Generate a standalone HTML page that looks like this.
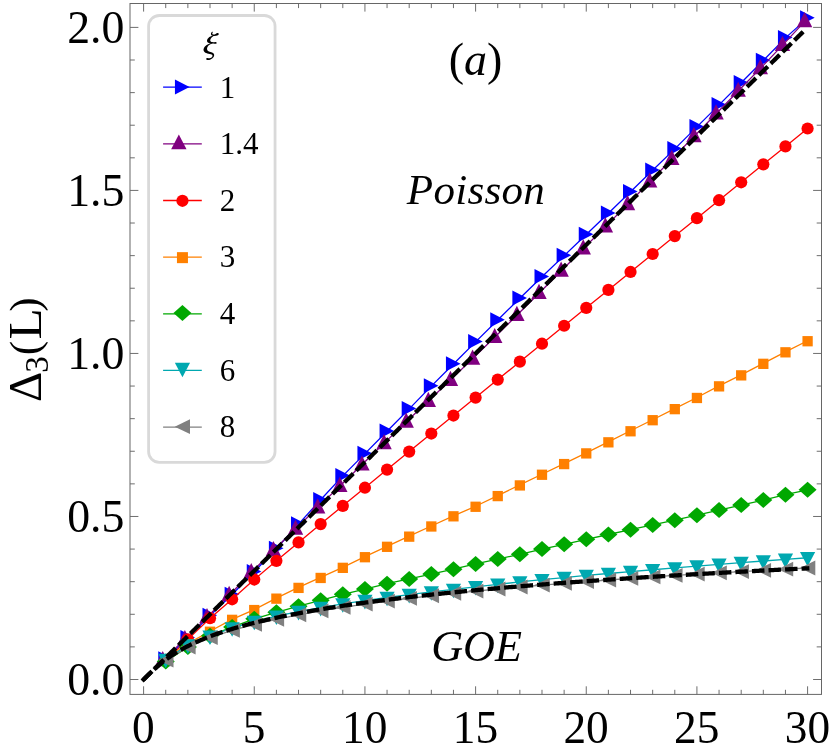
<!DOCTYPE html>
<html><head><meta charset="utf-8"><title>chart</title>
<style>html,body{margin:0;padding:0;background:#fff;overflow:hidden}body{width:830px;height:753px;position:relative;font-family:"Liberation Serif",serif}</style>
</head><body>
<svg width="830" height="753" viewBox="0 0 830 753" style="position:absolute;left:0;top:0;will-change:transform">
<rect width="830" height="753" fill="#fff"/>
<polyline points="165.73,659.07 187.87,637.89 210.00,615.50 232.13,594.51 254.26,571.79 276.40,548.43 298.53,524.08 320.66,499.74 342.80,475.88 364.93,453.66 387.06,431.27 409.20,408.88 431.33,386.16 453.46,363.94 475.60,341.88 497.73,320.06 519.86,298.24 541.99,276.83 564.13,255.63 586.26,234.44 608.39,213.25 630.53,191.78 652.66,170.32 674.79,148.85 696.92,126.85 719.06,104.84 741.19,82.83 763.32,60.44 785.46,37.89 807.59,18.11" fill="none" stroke="#0000ff" stroke-width="1.3"/>
<path d="M158.23 651.27L172.83 658.77L158.23 666.27Z" fill="#0000ff"/>
<path d="M180.37 630.09L194.97 637.59L180.37 645.09Z" fill="#0000ff"/>
<path d="M202.50 607.70L217.10 615.20L202.50 622.70Z" fill="#0000ff"/>
<path d="M224.63 586.71L239.23 594.21L224.63 601.71Z" fill="#0000ff"/>
<path d="M246.76 563.99L261.37 571.49L246.76 578.99Z" fill="#0000ff"/>
<path d="M268.90 540.63L283.50 548.13L268.90 555.63Z" fill="#0000ff"/>
<path d="M291.03 516.28L305.63 523.78L291.03 531.28Z" fill="#0000ff"/>
<path d="M313.16 491.94L327.76 499.44L313.16 506.94Z" fill="#0000ff"/>
<path d="M335.30 468.08L349.90 475.58L335.30 483.08Z" fill="#0000ff"/>
<path d="M357.43 445.86L372.03 453.36L357.43 460.86Z" fill="#0000ff"/>
<path d="M379.56 423.47L394.16 430.97L379.56 438.47Z" fill="#0000ff"/>
<path d="M401.70 401.08L416.30 408.58L401.70 416.08Z" fill="#0000ff"/>
<path d="M423.83 378.36L438.43 385.86L423.83 393.36Z" fill="#0000ff"/>
<path d="M445.96 356.14L460.56 363.64L445.96 371.14Z" fill="#0000ff"/>
<path d="M468.10 334.08L482.70 341.58L468.10 349.08Z" fill="#0000ff"/>
<path d="M490.23 312.26L504.83 319.76L490.23 327.26Z" fill="#0000ff"/>
<path d="M512.36 290.44L526.96 297.94L512.36 305.44Z" fill="#0000ff"/>
<path d="M534.49 269.03L549.09 276.53L534.49 284.03Z" fill="#0000ff"/>
<path d="M556.63 247.83L571.23 255.33L556.63 262.83Z" fill="#0000ff"/>
<path d="M578.76 226.64L593.36 234.14L578.76 241.64Z" fill="#0000ff"/>
<path d="M600.89 205.45L615.49 212.95L600.89 220.45Z" fill="#0000ff"/>
<path d="M623.03 183.98L637.63 191.48L623.03 198.98Z" fill="#0000ff"/>
<path d="M645.16 162.52L659.76 170.02L645.16 177.52Z" fill="#0000ff"/>
<path d="M667.29 141.05L681.89 148.55L667.29 156.05Z" fill="#0000ff"/>
<path d="M689.42 119.05L704.02 126.55L689.42 134.05Z" fill="#0000ff"/>
<path d="M711.56 97.04L726.16 104.54L711.56 112.04Z" fill="#0000ff"/>
<path d="M733.69 75.03L748.29 82.53L733.69 90.03Z" fill="#0000ff"/>
<path d="M755.82 52.64L770.42 60.14L755.82 67.64Z" fill="#0000ff"/>
<path d="M777.96 30.09L792.56 37.59L777.96 45.09Z" fill="#0000ff"/>
<path d="M800.09 10.31L814.69 17.81L800.09 25.31Z" fill="#0000ff"/>
<polyline points="165.73,657.44 187.87,636.35 210.00,614.29 232.13,592.23 254.26,569.51 276.40,547.45 298.53,526.04 320.66,504.63 342.80,483.22 364.93,461.81 387.06,440.40 409.20,418.99 431.33,398.23 453.46,377.14 475.60,355.83 497.73,334.32 519.86,312.26 541.99,290.20 564.13,267.97 586.26,245.74 608.39,223.60 630.53,201.46 652.66,178.80 674.79,156.14 696.92,133.47 719.06,110.76 741.19,88.05 763.32,65.33 785.46,42.13 807.59,18.34" fill="none" stroke="#800080" stroke-width="1.3"/>
<path d="M162.73 651.04L170.43 666.24L155.03 666.24Z" fill="#800080"/>
<path d="M184.87 629.95L192.57 645.15L177.17 645.15Z" fill="#800080"/>
<path d="M207.00 607.89L214.70 623.09L199.30 623.09Z" fill="#800080"/>
<path d="M229.13 585.83L236.83 601.03L221.43 601.03Z" fill="#800080"/>
<path d="M251.26 563.11L258.96 578.31L243.56 578.31Z" fill="#800080"/>
<path d="M273.40 541.05L281.10 556.25L265.70 556.25Z" fill="#800080"/>
<path d="M295.53 519.64L303.23 534.84L287.83 534.84Z" fill="#800080"/>
<path d="M317.66 498.23L325.36 513.43L309.96 513.43Z" fill="#800080"/>
<path d="M339.80 476.82L347.50 492.02L332.10 492.02Z" fill="#800080"/>
<path d="M361.93 455.41L369.63 470.61L354.23 470.61Z" fill="#800080"/>
<path d="M384.06 434.00L391.76 449.20L376.36 449.20Z" fill="#800080"/>
<path d="M406.20 412.59L413.90 427.79L398.50 427.79Z" fill="#800080"/>
<path d="M428.33 391.83L436.03 407.03L420.63 407.03Z" fill="#800080"/>
<path d="M450.46 370.74L458.16 385.94L442.76 385.94Z" fill="#800080"/>
<path d="M472.60 349.43L480.30 364.63L464.90 364.63Z" fill="#800080"/>
<path d="M494.73 327.92L502.43 343.12L487.03 343.12Z" fill="#800080"/>
<path d="M516.86 305.86L524.56 321.06L509.16 321.06Z" fill="#800080"/>
<path d="M538.99 283.80L546.69 299.00L531.29 299.00Z" fill="#800080"/>
<path d="M561.13 261.57L568.83 276.77L553.43 276.77Z" fill="#800080"/>
<path d="M583.26 239.34L590.96 254.54L575.56 254.54Z" fill="#800080"/>
<path d="M605.39 217.20L613.09 232.40L597.69 232.40Z" fill="#800080"/>
<path d="M627.53 195.06L635.23 210.26L619.83 210.26Z" fill="#800080"/>
<path d="M649.66 172.40L657.36 187.60L641.96 187.60Z" fill="#800080"/>
<path d="M671.79 149.74L679.49 164.94L664.09 164.94Z" fill="#800080"/>
<path d="M693.92 127.07L701.62 142.27L686.22 142.27Z" fill="#800080"/>
<path d="M716.06 104.36L723.76 119.56L708.36 119.56Z" fill="#800080"/>
<path d="M738.19 81.65L745.89 96.85L730.49 96.85Z" fill="#800080"/>
<path d="M760.32 58.93L768.02 74.13L752.62 74.13Z" fill="#800080"/>
<path d="M782.46 35.73L790.16 50.93L774.76 50.93Z" fill="#800080"/>
<path d="M804.59 11.94L812.29 27.14L796.89 27.14Z" fill="#800080"/>
<polyline points="165.73,660.26 187.87,639.40 210.00,618.20 232.13,599.29 254.26,579.53 276.40,560.86 298.53,542.39 320.66,524.07 342.80,505.85 364.93,487.70 387.06,469.62 409.20,451.57 431.33,433.56 453.46,415.56 475.60,397.59 497.73,379.62 519.86,361.67 541.99,343.72 564.13,325.77 586.26,307.83 608.39,289.89 630.53,271.95 652.66,254.01 674.79,236.08 696.92,218.14 719.06,200.21 741.19,182.28 763.32,164.34 785.46,146.41 807.59,128.48" fill="none" stroke="#ff0000" stroke-width="1.3"/>
<circle cx="165.73" cy="660.26" r="6.1" fill="#ff0000"/>
<circle cx="187.87" cy="639.40" r="6.1" fill="#ff0000"/>
<circle cx="210.00" cy="618.20" r="6.1" fill="#ff0000"/>
<circle cx="232.13" cy="599.29" r="6.1" fill="#ff0000"/>
<circle cx="254.26" cy="579.53" r="6.1" fill="#ff0000"/>
<circle cx="276.40" cy="560.86" r="6.1" fill="#ff0000"/>
<circle cx="298.53" cy="542.39" r="6.1" fill="#ff0000"/>
<circle cx="320.66" cy="524.07" r="6.1" fill="#ff0000"/>
<circle cx="342.80" cy="505.85" r="6.1" fill="#ff0000"/>
<circle cx="364.93" cy="487.70" r="6.1" fill="#ff0000"/>
<circle cx="387.06" cy="469.62" r="6.1" fill="#ff0000"/>
<circle cx="409.20" cy="451.57" r="6.1" fill="#ff0000"/>
<circle cx="431.33" cy="433.56" r="6.1" fill="#ff0000"/>
<circle cx="453.46" cy="415.56" r="6.1" fill="#ff0000"/>
<circle cx="475.60" cy="397.59" r="6.1" fill="#ff0000"/>
<circle cx="497.73" cy="379.62" r="6.1" fill="#ff0000"/>
<circle cx="519.86" cy="361.67" r="6.1" fill="#ff0000"/>
<circle cx="541.99" cy="343.72" r="6.1" fill="#ff0000"/>
<circle cx="564.13" cy="325.77" r="6.1" fill="#ff0000"/>
<circle cx="586.26" cy="307.83" r="6.1" fill="#ff0000"/>
<circle cx="608.39" cy="289.89" r="6.1" fill="#ff0000"/>
<circle cx="630.53" cy="271.95" r="6.1" fill="#ff0000"/>
<circle cx="652.66" cy="254.01" r="6.1" fill="#ff0000"/>
<circle cx="674.79" cy="236.08" r="6.1" fill="#ff0000"/>
<circle cx="696.92" cy="218.14" r="6.1" fill="#ff0000"/>
<circle cx="719.06" cy="200.21" r="6.1" fill="#ff0000"/>
<circle cx="741.19" cy="182.28" r="6.1" fill="#ff0000"/>
<circle cx="763.32" cy="164.34" r="6.1" fill="#ff0000"/>
<circle cx="785.46" cy="146.41" r="6.1" fill="#ff0000"/>
<circle cx="807.59" cy="128.48" r="6.1" fill="#ff0000"/>
<polyline points="165.73,659.12 187.87,643.63 210.00,631.24 232.13,619.34 254.26,609.56 276.40,598.15 298.53,587.39 320.66,577.45 342.80,567.34 364.93,556.71 387.06,546.31 409.20,536.15 431.33,525.98 453.46,515.82 475.60,506.27 497.73,495.59 519.86,484.92 541.99,474.25 564.13,463.57 586.26,452.90 608.39,441.83 630.53,430.77 652.66,419.71 674.79,408.65 696.92,397.47 719.06,385.86 741.19,374.87 763.32,363.33 785.46,351.82 807.59,340.73" fill="none" stroke="#ff8000" stroke-width="1.3"/>
<rect x="160.58" y="654.47" width="10.3" height="10.3" fill="#ff8000"/>
<rect x="182.72" y="638.98" width="10.3" height="10.3" fill="#ff8000"/>
<rect x="204.85" y="626.59" width="10.3" height="10.3" fill="#ff8000"/>
<rect x="226.98" y="614.69" width="10.3" height="10.3" fill="#ff8000"/>
<rect x="249.11" y="604.91" width="10.3" height="10.3" fill="#ff8000"/>
<rect x="271.25" y="593.50" width="10.3" height="10.3" fill="#ff8000"/>
<rect x="293.38" y="582.74" width="10.3" height="10.3" fill="#ff8000"/>
<rect x="315.51" y="572.80" width="10.3" height="10.3" fill="#ff8000"/>
<rect x="337.65" y="562.69" width="10.3" height="10.3" fill="#ff8000"/>
<rect x="359.78" y="552.06" width="10.3" height="10.3" fill="#ff8000"/>
<rect x="381.91" y="541.66" width="10.3" height="10.3" fill="#ff8000"/>
<rect x="404.05" y="531.50" width="10.3" height="10.3" fill="#ff8000"/>
<rect x="426.18" y="521.33" width="10.3" height="10.3" fill="#ff8000"/>
<rect x="448.31" y="511.17" width="10.3" height="10.3" fill="#ff8000"/>
<rect x="470.45" y="501.62" width="10.3" height="10.3" fill="#ff8000"/>
<rect x="492.58" y="490.94" width="10.3" height="10.3" fill="#ff8000"/>
<rect x="514.71" y="480.27" width="10.3" height="10.3" fill="#ff8000"/>
<rect x="536.84" y="469.60" width="10.3" height="10.3" fill="#ff8000"/>
<rect x="558.98" y="458.92" width="10.3" height="10.3" fill="#ff8000"/>
<rect x="581.11" y="448.25" width="10.3" height="10.3" fill="#ff8000"/>
<rect x="603.24" y="437.18" width="10.3" height="10.3" fill="#ff8000"/>
<rect x="625.38" y="426.12" width="10.3" height="10.3" fill="#ff8000"/>
<rect x="647.51" y="415.06" width="10.3" height="10.3" fill="#ff8000"/>
<rect x="669.64" y="404.00" width="10.3" height="10.3" fill="#ff8000"/>
<rect x="691.77" y="392.82" width="10.3" height="10.3" fill="#ff8000"/>
<rect x="713.91" y="381.21" width="10.3" height="10.3" fill="#ff8000"/>
<rect x="736.04" y="370.22" width="10.3" height="10.3" fill="#ff8000"/>
<rect x="758.17" y="358.68" width="10.3" height="10.3" fill="#ff8000"/>
<rect x="780.31" y="347.17" width="10.3" height="10.3" fill="#ff8000"/>
<rect x="802.44" y="336.08" width="10.3" height="10.3" fill="#ff8000"/>
<polyline points="165.73,661.47 187.87,647.06 210.00,635.71 232.13,627.10 254.26,618.85 276.40,612.33 298.53,606.14 320.66,600.37 342.80,594.34 364.93,589.12 387.06,583.74 409.20,578.88 431.33,574.02 453.46,569.16 475.60,563.95 497.73,559.12 519.86,554.30 541.99,549.08 564.13,544.29 586.26,539.30 608.39,534.51 630.53,529.73 652.66,524.94 674.79,520.16 696.92,515.17 719.06,510.12 741.19,505.10 763.32,500.07 785.46,494.69 807.59,489.87" fill="none" stroke="#00a800" stroke-width="1.3"/>
<path d="M165.73 653.47L174.73 661.47L165.73 669.47L156.73 661.47Z" fill="#00a800"/>
<path d="M187.87 639.06L196.87 647.06L187.87 655.06L178.87 647.06Z" fill="#00a800"/>
<path d="M210.00 627.71L219.00 635.71L210.00 643.71L201.00 635.71Z" fill="#00a800"/>
<path d="M232.13 619.10L241.13 627.10L232.13 635.10L223.13 627.10Z" fill="#00a800"/>
<path d="M254.26 610.85L263.26 618.85L254.26 626.85L245.26 618.85Z" fill="#00a800"/>
<path d="M276.40 604.33L285.40 612.33L276.40 620.33L267.40 612.33Z" fill="#00a800"/>
<path d="M298.53 598.14L307.53 606.14L298.53 614.14L289.53 606.14Z" fill="#00a800"/>
<path d="M320.66 592.37L329.66 600.37L320.66 608.37L311.66 600.37Z" fill="#00a800"/>
<path d="M342.80 586.34L351.80 594.34L342.80 602.34L333.80 594.34Z" fill="#00a800"/>
<path d="M364.93 581.12L373.93 589.12L364.93 597.12L355.93 589.12Z" fill="#00a800"/>
<path d="M387.06 575.74L396.06 583.74L387.06 591.74L378.06 583.74Z" fill="#00a800"/>
<path d="M409.20 570.88L418.20 578.88L409.20 586.88L400.20 578.88Z" fill="#00a800"/>
<path d="M431.33 566.02L440.33 574.02L431.33 582.02L422.33 574.02Z" fill="#00a800"/>
<path d="M453.46 561.16L462.46 569.16L453.46 577.16L444.46 569.16Z" fill="#00a800"/>
<path d="M475.60 555.95L484.60 563.95L475.60 571.95L466.60 563.95Z" fill="#00a800"/>
<path d="M497.73 551.12L506.73 559.12L497.73 567.12L488.73 559.12Z" fill="#00a800"/>
<path d="M519.86 546.30L528.86 554.30L519.86 562.30L510.86 554.30Z" fill="#00a800"/>
<path d="M541.99 541.08L550.99 549.08L541.99 557.08L532.99 549.08Z" fill="#00a800"/>
<path d="M564.13 536.29L573.13 544.29L564.13 552.29L555.13 544.29Z" fill="#00a800"/>
<path d="M586.26 531.30L595.26 539.30L586.26 547.30L577.26 539.30Z" fill="#00a800"/>
<path d="M608.39 526.51L617.39 534.51L608.39 542.51L599.39 534.51Z" fill="#00a800"/>
<path d="M630.53 521.73L639.53 529.73L630.53 537.73L621.53 529.73Z" fill="#00a800"/>
<path d="M652.66 516.94L661.66 524.94L652.66 532.94L643.66 524.94Z" fill="#00a800"/>
<path d="M674.79 512.16L683.79 520.16L674.79 528.16L665.79 520.16Z" fill="#00a800"/>
<path d="M696.92 507.17L705.92 515.17L696.92 523.17L687.92 515.17Z" fill="#00a800"/>
<path d="M719.06 502.12L728.06 510.12L719.06 518.12L710.06 510.12Z" fill="#00a800"/>
<path d="M741.19 497.10L750.19 505.10L741.19 513.10L732.19 505.10Z" fill="#00a800"/>
<path d="M763.32 492.07L772.32 500.07L763.32 508.07L754.32 500.07Z" fill="#00a800"/>
<path d="M785.46 486.69L794.46 494.69L785.46 502.69L776.46 494.69Z" fill="#00a800"/>
<path d="M807.59 481.87L816.59 489.87L807.59 497.87L798.59 489.87Z" fill="#00a800"/>
<polyline points="165.73,659.43 187.87,645.14 210.00,636.25 232.13,627.95 254.26,621.52 276.40,616.23 298.53,611.64 320.66,607.58 342.80,603.94 364.93,600.63 387.06,597.51 409.20,594.63 431.33,591.95 453.46,589.43 475.60,586.82 497.73,584.34 519.86,581.97 541.99,579.71 564.13,577.54 586.26,575.45 608.39,573.48 630.53,571.58 652.66,569.74 674.79,567.96 696.92,566.14 719.06,564.38 741.19,562.66 763.32,560.98 785.46,559.34 807.59,557.74" fill="none" stroke="#00a8b0" stroke-width="1.3"/>
<path d="M158.13 653.63L173.33 653.63L165.73 668.23Z" fill="#00a8b0"/>
<path d="M180.27 639.34L195.47 639.34L187.87 653.94Z" fill="#00a8b0"/>
<path d="M202.40 630.45L217.60 630.45L210.00 645.05Z" fill="#00a8b0"/>
<path d="M224.53 622.15L239.73 622.15L232.13 636.75Z" fill="#00a8b0"/>
<path d="M246.66 615.72L261.87 615.72L254.26 630.32Z" fill="#00a8b0"/>
<path d="M268.80 610.43L284.00 610.43L276.40 625.03Z" fill="#00a8b0"/>
<path d="M290.93 605.84L306.13 605.84L298.53 620.44Z" fill="#00a8b0"/>
<path d="M313.06 601.78L328.26 601.78L320.66 616.38Z" fill="#00a8b0"/>
<path d="M335.20 598.14L350.40 598.14L342.80 612.74Z" fill="#00a8b0"/>
<path d="M357.33 594.83L372.53 594.83L364.93 609.43Z" fill="#00a8b0"/>
<path d="M379.46 591.71L394.66 591.71L387.06 606.31Z" fill="#00a8b0"/>
<path d="M401.60 588.83L416.80 588.83L409.20 603.43Z" fill="#00a8b0"/>
<path d="M423.73 586.15L438.93 586.15L431.33 600.75Z" fill="#00a8b0"/>
<path d="M445.86 583.63L461.06 583.63L453.46 598.23Z" fill="#00a8b0"/>
<path d="M468.00 581.02L483.20 581.02L475.60 595.62Z" fill="#00a8b0"/>
<path d="M490.13 578.54L505.33 578.54L497.73 593.14Z" fill="#00a8b0"/>
<path d="M512.26 576.17L527.46 576.17L519.86 590.77Z" fill="#00a8b0"/>
<path d="M534.39 573.91L549.59 573.91L541.99 588.51Z" fill="#00a8b0"/>
<path d="M556.53 571.74L571.73 571.74L564.13 586.34Z" fill="#00a8b0"/>
<path d="M578.66 569.65L593.86 569.65L586.26 584.25Z" fill="#00a8b0"/>
<path d="M600.79 567.68L615.99 567.68L608.39 582.28Z" fill="#00a8b0"/>
<path d="M622.93 565.78L638.13 565.78L630.53 580.38Z" fill="#00a8b0"/>
<path d="M645.06 563.94L660.26 563.94L652.66 578.54Z" fill="#00a8b0"/>
<path d="M667.19 562.16L682.39 562.16L674.79 576.76Z" fill="#00a8b0"/>
<path d="M689.32 560.34L704.52 560.34L696.92 574.94Z" fill="#00a8b0"/>
<path d="M711.46 558.58L726.66 558.58L719.06 573.18Z" fill="#00a8b0"/>
<path d="M733.59 556.86L748.79 556.86L741.19 571.46Z" fill="#00a8b0"/>
<path d="M755.72 555.18L770.92 555.18L763.32 569.78Z" fill="#00a8b0"/>
<path d="M777.86 553.54L793.06 553.54L785.46 568.14Z" fill="#00a8b0"/>
<path d="M799.99 551.94L815.19 551.94L807.59 566.54Z" fill="#00a8b0"/>
<polyline points="165.73,660.08 187.87,647.10 210.00,637.72 232.13,630.39 254.26,624.46 276.40,619.31 298.53,614.86 320.66,610.95 342.80,607.34 364.93,604.06 387.06,601.07 409.20,598.30 431.33,595.74 453.46,593.34 475.60,591.11 497.73,589.00 519.86,587.01 541.99,585.12 564.13,583.33 586.26,581.62 608.39,579.98 630.53,578.41 652.66,576.90 674.79,575.46 696.92,574.10 719.06,572.80 741.19,571.54 763.32,570.33 785.46,569.15 807.59,568.01" fill="none" stroke="#808080" stroke-width="1.3"/>
<path d="M173.48 652.68L173.48 667.48L158.18 660.08Z" fill="#808080"/>
<path d="M195.62 639.70L195.62 654.50L180.32 647.10Z" fill="#808080"/>
<path d="M217.75 630.32L217.75 645.12L202.45 637.72Z" fill="#808080"/>
<path d="M239.88 622.99L239.88 637.79L224.58 630.39Z" fill="#808080"/>
<path d="M262.01 617.06L262.01 631.86L246.71 624.46Z" fill="#808080"/>
<path d="M284.15 611.91L284.15 626.71L268.85 619.31Z" fill="#808080"/>
<path d="M306.28 607.46L306.28 622.26L290.98 614.86Z" fill="#808080"/>
<path d="M328.41 603.55L328.41 618.35L313.11 610.95Z" fill="#808080"/>
<path d="M350.55 599.94L350.55 614.74L335.25 607.34Z" fill="#808080"/>
<path d="M372.68 596.66L372.68 611.46L357.38 604.06Z" fill="#808080"/>
<path d="M394.81 593.67L394.81 608.47L379.51 601.07Z" fill="#808080"/>
<path d="M416.95 590.90L416.95 605.70L401.65 598.30Z" fill="#808080"/>
<path d="M439.08 588.34L439.08 603.14L423.78 595.74Z" fill="#808080"/>
<path d="M461.21 585.94L461.21 600.74L445.91 593.34Z" fill="#808080"/>
<path d="M483.35 583.71L483.35 598.51L468.05 591.11Z" fill="#808080"/>
<path d="M505.48 581.60L505.48 596.40L490.18 589.00Z" fill="#808080"/>
<path d="M527.61 579.61L527.61 594.41L512.31 587.01Z" fill="#808080"/>
<path d="M549.74 577.72L549.74 592.52L534.44 585.12Z" fill="#808080"/>
<path d="M571.88 575.93L571.88 590.73L556.58 583.33Z" fill="#808080"/>
<path d="M594.01 574.22L594.01 589.02L578.71 581.62Z" fill="#808080"/>
<path d="M616.14 572.58L616.14 587.38L600.84 579.98Z" fill="#808080"/>
<path d="M638.28 571.01L638.28 585.81L622.98 578.41Z" fill="#808080"/>
<path d="M660.41 569.50L660.41 584.30L645.11 576.90Z" fill="#808080"/>
<path d="M682.54 568.06L682.54 582.86L667.24 575.46Z" fill="#808080"/>
<path d="M704.67 566.70L704.67 581.50L689.38 574.10Z" fill="#808080"/>
<path d="M726.81 565.40L726.81 580.20L711.51 572.80Z" fill="#808080"/>
<path d="M748.94 564.14L748.94 578.94L733.64 571.54Z" fill="#808080"/>
<path d="M771.07 562.93L771.07 577.73L755.77 570.33Z" fill="#808080"/>
<path d="M793.21 561.75L793.21 576.55L777.91 569.15Z" fill="#808080"/>
<path d="M815.34 560.61L815.34 575.41L800.04 568.01Z" fill="#808080"/>
<polyline points="143.03,680.06 143.60,679.50 145.25,677.88 146.91,676.25 148.56,674.63 150.21,673.01 151.87,671.38 153.52,669.76 155.17,668.14 156.82,666.51 158.48,664.89 160.13,663.27 161.78,661.64 163.44,660.02 165.09,658.40 166.74,656.77 168.40,655.15 170.05,653.52 171.70,651.90 173.35,650.28 175.01,648.65 176.66,647.03 178.31,645.41 179.97,643.78 181.62,642.16 183.27,640.54 184.93,638.91 186.58,637.29 188.23,635.67 189.89,634.04 191.54,632.42 193.19,630.80 194.84,629.17 196.50,627.55 198.15,625.93 199.80,624.30 201.46,622.68 203.11,621.06 204.76,619.43 206.42,617.81 208.07,616.19 209.72,614.56 211.37,612.94 213.03,611.32 214.68,609.69 216.33,608.07 217.99,606.45 219.64,604.82 221.29,603.20 222.95,601.57 224.60,599.95 226.25,598.33 227.91,596.70 229.56,595.08 231.21,593.46 232.86,591.83 234.52,590.21 236.17,588.59 237.82,586.96 239.48,585.34 241.13,583.72 242.78,582.09 244.44,580.47 246.09,578.85 247.74,577.22 249.39,575.60 251.05,573.98 252.70,572.35 254.35,570.73 256.01,569.11 257.66,567.48 259.31,565.86 260.97,564.24 262.62,562.61 264.27,560.99 265.93,559.37 267.58,557.74 269.23,556.12 270.88,554.50 272.54,552.87 274.19,551.25 275.84,549.62 277.50,548.00 279.15,546.38 280.80,544.75 282.46,543.13 284.11,541.51 285.76,539.88 287.41,538.26 289.07,536.64 290.72,535.01 292.37,533.39 294.03,531.77 295.68,530.14 297.33,528.52 298.99,526.90 300.64,525.27 302.29,523.65 303.94,522.03 305.60,520.40 307.25,518.78 308.90,517.16 310.56,515.53 312.21,513.91 313.86,512.29 315.52,510.66 317.17,509.04 318.82,507.42 320.48,505.79 322.13,504.17 323.78,502.55 325.43,500.92 327.09,499.30 328.74,497.67 330.39,496.05 332.05,494.43 333.70,492.80 335.35,491.18 337.01,489.56 338.66,487.93 340.31,486.31 341.96,484.69 343.62,483.06 345.27,481.44 346.92,479.82 348.58,478.19 350.23,476.57 351.88,474.95 353.54,473.32 355.19,471.70 356.84,470.08 358.50,468.45 360.15,466.83 361.80,465.21 363.45,463.58 365.11,461.96 366.76,460.34 368.41,458.71 370.07,457.09 371.72,455.47 373.37,453.84 375.03,452.22 376.68,450.59 378.33,448.97 379.98,447.35 381.64,445.72 383.29,444.10 384.94,442.48 386.60,440.85 388.25,439.23 389.90,437.61 391.56,435.98 393.21,434.36 394.86,432.74 396.52,431.11 398.17,429.49 399.82,427.87 401.47,426.24 403.13,424.62 404.78,423.00 406.43,421.37 408.09,419.75 409.74,418.13 411.39,416.50 413.05,414.88 414.70,413.26 416.35,411.63 418.00,410.01 419.66,408.39 421.31,406.76 422.96,405.14 424.62,403.52 426.27,401.89 427.92,400.27 429.58,398.64 431.23,397.02 432.88,395.40 434.54,393.77 436.19,392.15 437.84,390.53 439.49,388.90 441.15,387.28 442.80,385.66 444.45,384.03 446.11,382.41 447.76,380.79 449.41,379.16 451.07,377.54 452.72,375.92 454.37,374.29 456.02,372.67 457.68,371.05 459.33,369.42 460.98,367.80 462.64,366.18 464.29,364.55 465.94,362.93 467.60,361.31 469.25,359.68 470.90,358.06 472.56,356.44 474.21,354.81 475.86,353.19 477.51,351.57 479.17,349.94 480.82,348.32 482.47,346.69 484.13,345.07 485.78,343.45 487.43,341.82 489.09,340.20 490.74,338.58 492.39,336.95 494.04,335.33 495.70,333.71 497.35,332.08 499.00,330.46 500.66,328.84 502.31,327.21 503.96,325.59 505.62,323.97 507.27,322.34 508.92,320.72 510.58,319.10 512.23,317.47 513.88,315.85 515.53,314.23 517.19,312.60 518.84,310.98 520.49,309.36 522.15,307.73 523.80,306.11 525.45,304.49 527.11,302.86 528.76,301.24 530.41,299.61 532.06,297.99 533.72,296.37 535.37,294.74 537.02,293.12 538.68,291.50 540.33,289.87 541.98,288.25 543.64,286.63 545.29,285.00 546.94,283.38 548.60,281.76 550.25,280.13 551.90,278.51 553.55,276.89 555.21,275.26 556.86,273.64 558.51,272.02 560.17,270.39 561.82,268.77 563.47,267.15 565.13,265.52 566.78,263.90 568.43,262.28 570.08,260.65 571.74,259.03 573.39,257.41 575.04,255.78 576.70,254.16 578.35,252.54 580.00,250.91 581.66,249.29 583.31,247.66 584.96,246.04 586.62,244.42 588.27,242.79 589.92,241.17 591.57,239.55 593.23,237.92 594.88,236.30 596.53,234.68 598.19,233.05 599.84,231.43 601.49,229.81 603.15,228.18 604.80,226.56 606.45,224.94 608.10,223.31 609.76,221.69 611.41,220.07 613.06,218.44 614.72,216.82 616.37,215.20 618.02,213.57 619.68,211.95 621.33,210.33 622.98,208.70 624.63,207.08 626.29,205.46 627.94,203.83 629.59,202.21 631.25,200.59 632.90,198.96 634.55,197.34 636.21,195.71 637.86,194.09 639.51,192.47 641.17,190.84 642.82,189.22 644.47,187.60 646.12,185.97 647.78,184.35 649.43,182.73 651.08,181.10 652.74,179.48 654.39,177.86 656.04,176.23 657.70,174.61 659.35,172.99 661.00,171.36 662.65,169.74 664.31,168.12 665.96,166.49 667.61,164.87 669.27,163.25 670.92,161.62 672.57,160.00 674.23,158.38 675.88,156.75 677.53,155.13 679.19,153.51 680.84,151.88 682.49,150.26 684.14,148.64 685.80,147.01 687.45,145.39 689.10,143.76 690.76,142.14 692.41,140.52 694.06,138.89 695.72,137.27 697.37,135.65 699.02,134.02 700.67,132.40 702.33,130.78 703.98,129.15 705.63,127.53 707.29,125.91 708.94,124.28 710.59,122.66 712.25,121.04 713.90,119.41 715.55,117.79 717.21,116.17 718.86,114.54 720.51,112.92 722.16,111.30 723.82,109.67 725.47,108.05 727.12,106.43 728.78,104.80 730.43,103.18 732.08,101.56 733.74,99.93 735.39,98.31 737.04,96.68 738.69,95.06 740.35,93.44 742.00,91.81 743.65,90.19 745.31,88.57 746.96,86.94 748.61,85.32 750.27,83.70 751.92,82.07 753.57,80.45 755.23,78.83 756.88,77.20 758.53,75.58 760.18,73.96 761.84,72.33 763.49,70.71 765.14,69.09 766.80,67.46 768.45,65.84 770.10,64.22 771.76,62.59 773.41,60.97 775.06,59.35 776.71,57.72 778.37,56.10 780.02,54.48 781.67,52.85 783.33,51.23 784.98,49.61 786.63,47.98 788.29,46.36 789.94,44.73 791.59,43.11 793.25,41.49 794.90,39.86 796.55,38.24 798.20,36.62 799.86,34.99 801.51,33.37 803.16,31.75" fill="none" stroke="#000" stroke-width="4.3" stroke-dasharray="12.5 4.1"/>
<polyline points="142.10,680.97 143.60,679.50 144.93,678.19 146.27,676.88 147.60,675.58 148.94,674.29 150.27,673.02 151.61,671.75 152.94,670.51 154.27,669.29 155.61,668.08 156.94,666.90 158.28,665.75 159.61,664.62 160.94,663.51 162.28,662.43 163.61,661.38 164.95,660.35 166.28,659.35 167.62,658.37 168.95,657.42 170.28,656.49 171.62,655.59 172.95,654.70 174.29,653.84 175.62,653.00 176.95,652.18 178.29,651.38 179.62,650.59 180.96,649.83 182.29,649.08 183.63,648.35 184.96,647.63 186.29,646.93 187.63,646.24 188.96,645.56 190.30,644.90 191.63,644.25 192.97,643.62 194.30,642.99 195.63,642.38 196.97,641.78 198.30,641.19 199.64,640.61 200.97,640.04 202.30,639.48 203.64,638.93 204.97,638.38 206.31,637.85 207.64,637.33 208.98,636.81 210.31,636.30 211.64,635.80 212.98,635.30 214.31,634.82 215.65,634.34 216.98,633.87 218.31,633.40 219.65,632.94 220.98,632.49 222.32,632.04 223.65,631.60 224.99,631.16 226.32,630.73 227.65,630.31 228.99,629.89 230.32,629.48 231.66,629.07 232.99,628.67 234.32,628.27 235.66,627.88 236.99,627.49 238.33,627.10 239.66,626.72 241.00,626.35 242.33,625.97 243.66,625.61 245.00,625.24 246.33,624.89 247.67,624.53 249.00,624.18 250.34,623.83 251.67,623.49 253.00,623.15 254.34,622.81 255.67,622.47 257.01,622.14 258.34,621.82 259.67,621.49 261.01,621.17 262.34,620.85 263.68,620.54 265.01,620.23 266.35,619.92 267.68,619.61 269.01,619.31 270.35,619.01 271.68,618.71 273.02,618.42 274.35,618.13 275.68,617.84 277.02,617.55 278.35,617.26 279.69,616.98 281.02,616.70 282.36,616.42 283.69,616.15 285.02,615.88 286.36,615.61 287.69,615.34 289.03,615.07 290.36,614.81 291.70,614.55 293.03,614.29 294.36,614.03 295.70,613.77 297.03,613.52 298.37,613.27 299.70,613.02 301.03,612.77 302.37,612.52 303.70,612.28 305.04,612.03 306.37,611.79 307.71,611.55 309.04,611.32 310.37,611.08 311.71,610.85 313.04,610.61 314.38,610.38 315.71,610.15 317.04,609.93 318.38,609.70 319.71,609.48 321.05,609.25 322.38,609.03 323.72,608.81 325.05,608.59 326.38,608.38 327.72,608.16 329.05,607.94 330.39,607.73 331.72,607.52 333.05,607.31 334.39,607.10 335.72,606.89 337.06,606.69 338.39,606.48 339.73,606.28 341.06,606.08 342.39,605.88 343.73,605.68 345.06,605.48 346.40,605.28 347.73,605.08 349.07,604.89 350.40,604.69 351.73,604.50 353.07,604.31 354.40,604.12 355.74,603.93 357.07,603.74 358.40,603.55 359.74,603.37 361.07,603.18 362.41,603.00 363.74,602.81 365.08,602.63 366.41,602.45 367.74,602.27 369.08,602.09 370.41,601.91 371.75,601.73 373.08,601.56 374.41,601.38 375.75,601.21 377.08,601.03 378.42,600.86 379.75,600.69 381.09,600.52 382.42,600.35 383.75,600.18 385.09,600.01 386.42,599.84 387.76,599.68 389.09,599.51 390.43,599.35 391.76,599.18 393.09,599.02 394.43,598.86 395.76,598.69 397.10,598.53 398.43,598.37 399.76,598.21 401.10,598.05 402.43,597.90 403.77,597.74 405.10,597.58 406.44,597.43 407.77,597.27 409.10,597.12 410.44,596.97 411.77,596.81 413.11,596.66 414.44,596.51 415.77,596.36 417.11,596.21 418.44,596.06 419.78,595.91 421.11,595.76 422.45,595.62 423.78,595.47 425.11,595.32 426.45,595.18 427.78,595.03 429.12,594.89 430.45,594.75 431.78,594.60 433.12,594.46 434.45,594.32 435.79,594.18 437.12,594.04 438.46,593.90 439.79,593.76 441.12,593.62 442.46,593.48 443.79,593.34 445.13,593.21 446.46,593.07 447.80,592.94 449.13,592.80 450.46,592.67 451.80,592.53 453.13,592.40 454.47,592.26 455.80,592.13 457.13,592.00 458.47,591.87 459.80,591.74 461.14,591.61 462.47,591.48 463.81,591.35 465.14,591.22 466.47,591.09 467.81,590.96 469.14,590.84 470.48,590.71 471.81,590.58 473.14,590.46 474.48,590.33 475.81,590.21 477.15,590.08 478.48,589.96 479.82,589.83 481.15,589.71 482.48,589.59 483.82,589.47 485.15,589.34 486.49,589.22 487.82,589.10 489.16,588.98 490.49,588.86 491.82,588.74 493.16,588.62 494.49,588.51 495.83,588.39 497.16,588.27 498.49,588.15 499.83,588.03 501.16,587.92 502.50,587.80 503.83,587.69 505.17,587.57 506.50,587.46 507.83,587.34 509.17,587.23 510.50,587.11 511.84,587.00 513.17,586.89 514.50,586.77 515.84,586.66 517.17,586.55 518.51,586.44 519.84,586.33 521.18,586.22 522.51,586.11 523.84,586.00 525.18,585.89 526.51,585.78 527.85,585.67 529.18,585.56 530.52,585.45 531.85,585.34 533.18,585.24 534.52,585.13 535.85,585.02 537.19,584.92 538.52,584.81 539.85,584.71 541.19,584.60 542.52,584.49 543.86,584.39 545.19,584.29 546.53,584.18 547.86,584.08 549.19,583.97 550.53,583.87 551.86,583.77 553.20,583.67 554.53,583.56 555.86,583.46 557.20,583.36 558.53,583.26 559.87,583.16 561.20,583.06 562.54,582.96 563.87,582.86 565.20,582.76 566.54,582.66 567.87,582.56 569.21,582.46 570.54,582.36 571.87,582.26 573.21,582.17 574.54,582.07 575.88,581.97 577.21,581.87 578.55,581.78 579.88,581.68 581.21,581.59 582.55,581.49 583.88,581.39 585.22,581.30 586.55,581.20 587.89,581.11 589.22,581.01 590.55,580.92 591.89,580.83 593.22,580.73 594.56,580.64 595.89,580.55 597.22,580.45 598.56,580.36 599.89,580.27 601.23,580.17 602.56,580.08 603.90,579.99 605.23,579.90 606.56,579.81 607.90,579.72 609.23,579.63 610.57,579.54 611.90,579.45 613.23,579.36 614.57,579.27 615.90,579.18 617.24,579.09 618.57,579.00 619.91,578.91 621.24,578.82 622.57,578.73 623.91,578.65 625.24,578.56 626.58,578.47 627.91,578.38 629.25,578.30 630.58,578.21 631.91,578.12 633.25,578.04 634.58,577.95 635.92,577.87 637.25,577.78 638.58,577.69 639.92,577.61 641.25,577.52 642.59,577.44 643.92,577.35 645.26,577.27 646.59,577.19 647.92,577.10 649.26,577.02 650.59,576.93 651.93,576.85 653.26,576.77 654.59,576.69 655.93,576.60 657.26,576.52 658.60,576.44 659.93,576.36 661.27,576.27 662.60,576.19 663.93,576.11 665.27,576.03 666.60,575.95 667.94,575.87 669.27,575.79 670.60,575.71 671.94,575.63 673.27,575.55 674.61,575.47 675.94,575.39 677.28,575.31 678.61,575.23 679.94,575.15 681.28,575.07 682.61,574.99 683.95,574.91 685.28,574.83 686.62,574.76 687.95,574.68 689.28,574.60 690.62,574.52 691.95,574.44 693.29,574.37 694.62,574.29 695.95,574.21 697.29,574.14 698.62,574.06 699.96,573.98 701.29,573.91 702.63,573.83 703.96,573.76 705.29,573.68 706.63,573.60 707.96,573.53 709.30,573.45 710.63,573.38 711.96,573.30 713.30,573.23 714.63,573.16 715.97,573.08 717.30,573.01 718.64,572.93 719.97,572.86 721.30,572.79 722.64,572.71 723.97,572.64 725.31,572.57 726.64,572.49 727.98,572.42 729.31,572.35 730.64,572.27 731.98,572.20 733.31,572.13 734.65,572.06 735.98,571.99 737.31,571.91 738.65,571.84 739.98,571.77 741.32,571.70 742.65,571.63 743.99,571.56 745.32,571.49 746.65,571.42 747.99,571.35 749.32,571.28 750.66,571.21 751.99,571.14 753.32,571.07 754.66,571.00 755.99,570.93 757.33,570.86 758.66,570.79 760.00,570.72 761.33,570.65 762.66,570.58 764.00,570.51 765.33,570.44 766.67,570.37 768.00,570.31 769.33,570.24 770.67,570.17 772.00,570.10 773.34,570.03 774.67,569.97 776.01,569.90 777.34,569.83 778.67,569.76 780.01,569.70 781.34,569.63 782.68,569.56 784.01,569.50 785.35,569.43 786.68,569.36 788.01,569.30 789.35,569.23 790.68,569.17 792.02,569.10 793.35,569.03 794.68,568.97 796.02,568.90 797.35,568.84 798.69,568.77 800.02,568.71 801.36,568.64 802.69,568.58 804.02,568.51 805.36,568.45 806.69,568.38 808.03,568.32 809.36,568.25" fill="none" stroke="#000" stroke-width="4.3" stroke-dasharray="12.5 4.06"/>
<rect x="130.0" y="3.5" width="691.5" height="690.9" fill="none" stroke="#666" stroke-width="1.0"/>
<path d="M143.60 694.4v-8.1M143.60 3.5v8.1M165.73 694.4v-4.6M165.73 3.5v4.6M187.87 694.4v-4.6M187.87 3.5v4.6M210.00 694.4v-4.6M210.00 3.5v4.6M232.13 694.4v-4.6M232.13 3.5v4.6M254.26 694.4v-8.1M254.26 3.5v8.1M276.40 694.4v-4.6M276.40 3.5v4.6M298.53 694.4v-4.6M298.53 3.5v4.6M320.66 694.4v-4.6M320.66 3.5v4.6M342.80 694.4v-4.6M342.80 3.5v4.6M364.93 694.4v-8.1M364.93 3.5v8.1M387.06 694.4v-4.6M387.06 3.5v4.6M409.20 694.4v-4.6M409.20 3.5v4.6M431.33 694.4v-4.6M431.33 3.5v4.6M453.46 694.4v-4.6M453.46 3.5v4.6M475.60 694.4v-8.1M475.60 3.5v8.1M497.73 694.4v-4.6M497.73 3.5v4.6M519.86 694.4v-4.6M519.86 3.5v4.6M541.99 694.4v-4.6M541.99 3.5v4.6M564.13 694.4v-4.6M564.13 3.5v4.6M586.26 694.4v-8.1M586.26 3.5v8.1M608.39 694.4v-4.6M608.39 3.5v4.6M630.53 694.4v-4.6M630.53 3.5v4.6M652.66 694.4v-4.6M652.66 3.5v4.6M674.79 694.4v-4.6M674.79 3.5v4.6M696.92 694.4v-8.1M696.92 3.5v8.1M719.06 694.4v-4.6M719.06 3.5v4.6M741.19 694.4v-4.6M741.19 3.5v4.6M763.32 694.4v-4.6M763.32 3.5v4.6M785.46 694.4v-4.6M785.46 3.5v4.6M807.59 694.4v-8.1M807.59 3.5v8.1M130.0 679.50h8.4M821.5 679.50h-8.4M130.0 646.89h4.8M821.5 646.89h-4.8M130.0 614.29h4.8M821.5 614.29h-4.8M130.0 581.68h4.8M821.5 581.68h-4.8M130.0 549.08h4.8M821.5 549.08h-4.8M130.0 516.48h8.4M821.5 516.48h-8.4M130.0 483.87h4.8M821.5 483.87h-4.8M130.0 451.26h4.8M821.5 451.26h-4.8M130.0 418.66h4.8M821.5 418.66h-4.8M130.0 386.06h4.8M821.5 386.06h-4.8M130.0 353.45h8.4M821.5 353.45h-8.4M130.0 320.84h4.8M821.5 320.84h-4.8M130.0 288.24h4.8M821.5 288.24h-4.8M130.0 255.63h4.8M821.5 255.63h-4.8M130.0 223.03h4.8M821.5 223.03h-4.8M130.0 190.42h8.4M821.5 190.42h-8.4M130.0 157.82h4.8M821.5 157.82h-4.8M130.0 125.22h4.8M821.5 125.22h-4.8M130.0 92.61h4.8M821.5 92.61h-4.8M130.0 60.00h4.8M821.5 60.00h-4.8M130.0 27.40h8.4M821.5 27.40h-8.4" stroke="#666" stroke-width="0.95" fill="none"/>
<g font-family="Liberation Serif, serif" font-size="46.5" fill="#000">
<text transform="translate(143.40,742.8) scale(0.975,1.012)" text-anchor="middle">0</text>
<text transform="translate(254.06,742.8) scale(0.975,1.012)" text-anchor="middle">5</text>
<text transform="translate(364.73,742.8) scale(0.975,1.012)" text-anchor="middle">10</text>
<text transform="translate(475.40,742.8) scale(0.975,1.012)" text-anchor="middle">15</text>
<text transform="translate(586.06,742.8) scale(0.975,1.012)" text-anchor="middle">20</text>
<text transform="translate(696.72,742.8) scale(0.975,1.012)" text-anchor="middle">25</text>
<text transform="translate(807.39,742.8) scale(0.975,1.012)" text-anchor="middle">30</text>
<text transform="translate(124.4,695.30) scale(0.985,1.008)" text-anchor="end">0.0</text>
<text transform="translate(124.4,532.27) scale(0.985,1.008)" text-anchor="end">0.5</text>
<text transform="translate(124.4,369.25) scale(0.985,1.008)" text-anchor="end">1.0</text>
<text transform="translate(124.4,206.22) scale(0.985,1.008)" text-anchor="end">1.5</text>
<text transform="translate(124.4,43.20) scale(0.985,1.008)" text-anchor="end">2.0</text>
</g>
<g transform="translate(41.4,349.3) rotate(-90)" font-family="Liberation Serif, serif" fill="#000"><text x="-52.8" y="0" font-size="47">Δ</text><text x="-23.4" y="7" font-size="33">3</text><text x="-5.9" y="-2.2" font-size="43">(</text><text transform="translate(9.8,0) scale(1.09,1)" font-size="47">L</text><text x="37.6" y="-2.2" font-size="43">)</text></g>
<g font-family="Liberation Serif, serif" font-size="43" fill="#000">
<text x="475.5" y="75.4" text-anchor="middle" font-size="46">(<tspan font-style="italic">a</tspan>)</text>
<text x="476.0" y="204.3" text-anchor="middle" font-style="italic" letter-spacing="0.3">Poisson</text>
<text x="476.6" y="661.1" text-anchor="middle" font-style="italic" font-size="44.2">GOE</text>
</g>
<rect x="148.6" y="15.5" width="126.45" height="446.9" rx="10.7" ry="10.7" fill="#fff" stroke="#d9d9d9" stroke-width="2.8"/>
<g transform="translate(195,25) scale(0.05311)" fill="#000" stroke="none"><path d="M330 128C318 128 306 140 301 158C297 178 308 196 330 204C360 212 400 206 432 194C450 186 452 166 440 156C426 148 404 156 388 168C372 180 350 184 336 178C322 172 322 152 336 138C340 132 336 128 330 128Z"/><path d="M340 196C270 212 215 262 228 312C238 346 290 352 340 350C370 349 392 362 404 350C416 336 404 318 384 320C352 324 310 330 292 308C274 284 300 232 350 206Z"/><path d="M310 338C220 360 150 420 162 482C172 530 240 540 300 552C340 560 340 596 306 618C280 634 252 622 232 620C214 618 204 634 214 648C226 662 262 660 292 648C340 628 368 592 360 554C352 516 300 508 262 498C226 488 214 444 240 404C262 372 300 354 336 348Z"/></g>
<path d="M163.1 87.20H201.8" stroke="#0000ff" stroke-width="1.3"/>
<path d="M174.95 79.40L189.55 86.90L174.95 94.40Z" fill="#0000ff"/>
<text x="219.7" y="97.50" font-family="Liberation Serif, serif" font-size="31" fill="#000">1</text>
<path d="M163.1 143.85H201.8" stroke="#800080" stroke-width="1.3"/>
<path d="M178.85 134.55L186.55 149.25L171.15 149.25Z" fill="#800080"/>
<text x="219.7" y="154.15" font-family="Liberation Serif, serif" font-size="31" fill="#000">1.4</text>
<path d="M163.1 200.50H201.8" stroke="#ff0000" stroke-width="1.3"/>
<circle cx="182.45" cy="200.80" r="6.1" fill="#ff0000"/>
<text x="219.7" y="210.80" font-family="Liberation Serif, serif" font-size="31" fill="#000">2</text>
<path d="M163.1 257.15H201.8" stroke="#ff8000" stroke-width="1.3"/>
<rect x="176.95" y="252.15" width="11.0" height="11.0" fill="#ff8000"/>
<text x="219.7" y="267.45" font-family="Liberation Serif, serif" font-size="31" fill="#000">3</text>
<path d="M163.1 313.80H201.8" stroke="#00a800" stroke-width="1.3"/>
<path d="M182.45 305.00L191.45 313.00L182.45 321.00L173.45 313.00Z" fill="#00a800"/>
<text x="219.7" y="324.10" font-family="Liberation Serif, serif" font-size="31" fill="#000">4</text>
<path d="M163.1 370.45H201.8" stroke="#00a8b0" stroke-width="1.3"/>
<path d="M174.85 362.75L190.05 362.75L182.45 377.35Z" fill="#00a8b0"/>
<text x="219.7" y="380.75" font-family="Liberation Serif, serif" font-size="31" fill="#000">6</text>
<path d="M163.1 427.10H201.8" stroke="#808080" stroke-width="1.3"/>
<path d="M190.00 419.30L190.00 434.10L174.70 426.70Z" fill="#808080"/>
<text x="219.7" y="437.40" font-family="Liberation Serif, serif" font-size="31" fill="#000">8</text>
</svg>
</body></html>
